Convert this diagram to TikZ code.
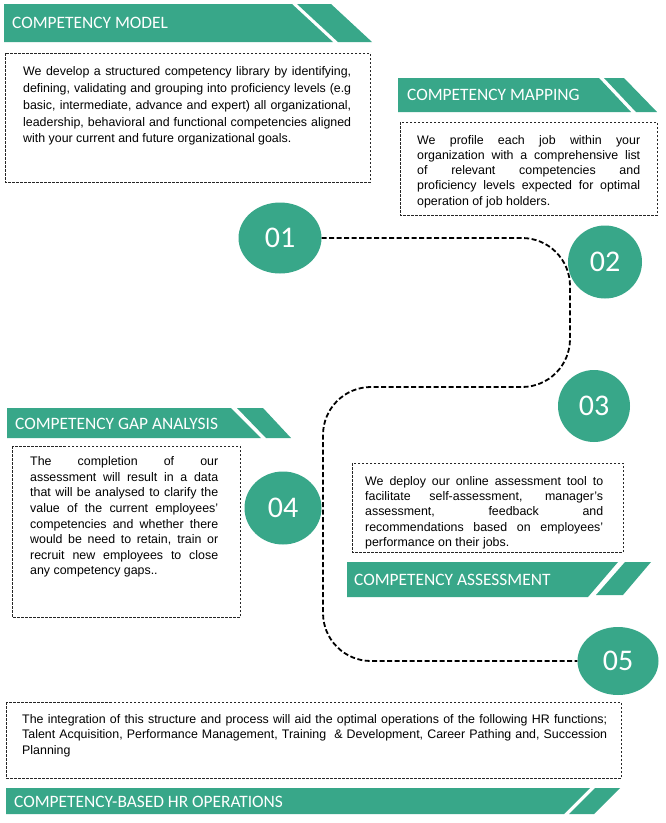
\documentclass[tikz,border=0pt]{standalone}
\usepackage{fontspec}
\setmainfont{Liberation Sans}
\newfontfamily\headfont{Carlito}
\usetikzlibrary{shapes.geometric}
\definecolor{stepteal}{RGB}{56,167,137}
\tolerance=10000
\hbadness=10000
\hyphenpenalty=10000

\begin{document}
\begin{tikzpicture}[x=1pt,y=-1pt,
    banner/.style={fill=stepteal},
    title node/.style={anchor=base west,inner sep=0pt,text=white,font=\headfont\fontsize{17.4}{20}\selectfont},
    card/.style={draw=black!85,line width=0.8pt,dash pattern=on 2.5pt off 1.5pt},
    text node/.style={anchor=base west,inner sep=0pt,align=justify,font=\fontsize{12.4}{15.5}\selectfont},
    num node/.style={ellipse,fill=stepteal,text=white,inner sep=0pt,minimum width=78pt,minimum height=72pt,font=\headfont\fontsize{30}{30}\selectfont},
    link/.style={draw=black,line width=1.8pt,dash pattern=on 5pt off 2.5pt,rounded corners=48pt}]

    \path[fill=white,use as bounding box] (0,0) rectangle (666,823);

    % competency model
    \fill[banner] (4,4) -- (292,4) -- (333,42) -- (4,42) -- cycle;
    \fill[banner] (297,4) -- (331,4) -- (372,42) -- (338,42) -- cycle;
    \node[title node] (h1) at (12,28) {COMPETENCY MODEL};
    \draw[card] (5,53) rectangle (370,182);
    \node[text node,text width=328pt,font=\fontsize{12.4}{16.9}\selectfont] (t1) at (23,75.3)
        {We develop a structured competency library by identifying,\linebreak
         defining, validating and grouping into proficiency levels (e.g\linebreak
         basic, intermediate, advance and expert) all organizational,\linebreak
         leadership, behavioral and functional competencies aligned\linebreak
         with your current and future organizational goals.};

    % competency mapping
    \fill[banner] (398,78) -- (599,78) -- (631,112) -- (398,112) -- cycle;
    \fill[banner] (604,78) -- (624,78) -- (657,112) -- (636,112) -- cycle;
    \node[title node] (h2) at (407,100) {COMPETENCY MAPPING};
    \draw[card] (400,122) rectangle (657,215);
    \node[text node,text width=223pt,font=\fontsize{12.4}{15.25}\selectfont] (t2) at (417,144)
        {We profile each job within your\linebreak
         organization with a comprehensive list\linebreak
         of relevant competencies and\linebreak
         proficiency levels expected for optimal\linebreak
         operation of job holders.};

    % competency gap analysis
    \fill[banner] (7,408) -- (231,408) -- (261,438) -- (7,438) -- cycle;
    \fill[banner] (237,408) -- (263,408) -- (291,438) -- (266,438) -- cycle;
    \node[title node] (h4) at (15,429) {COMPETENCY GAP ANALYSIS};
    \draw[card] (12,446) rectangle (240,617);
    \node[text node,text width=188pt,font=\fontsize{12.4}{15.6}\selectfont] (t4) at (30,465.7)
        {The completion of our\linebreak
         assessment will result in a data\linebreak
         that will be analysed to clarify the\linebreak
         value of the current employees'\linebreak
         competencies and whether there\linebreak
         would be need to retain, train or\linebreak
         recruit new employees to close\linebreak
         any competency gaps..};

    % competency assessment
    \draw[card] (352,463) rectangle (623,552);
    \node[text node,text width=238pt,font=\fontsize{12.4}{15.4}\selectfont] (t3) at (365,485)
        {We deploy our online assessment tool to\linebreak
         facilitate self-assessment, manager's\linebreak
         assessment, feedback and\linebreak
         recommendations based on employees'\linebreak
         performance on their jobs.};
    \fill[banner] (347,562) -- (618,562) -- (588,597) -- (347,597) -- cycle;
    \fill[banner] (625,562) -- (651,562) -- (623,595) -- (596,595) -- cycle;
    \node[title node] (h3) at (354,585) {COMPETENCY ASSESSMENT};

    % hr operations
    \draw[card] (6,702) rectangle (621,778);
    \node[text node,text width=585pt,font=\fontsize{12.4}{15.4}\selectfont] (t5) at (22,723.3)
        {The integration of this structure and process will aid the optimal operations of the following HR functions;\linebreak
         Talent Acquisition, Performance Management, Training \ \& Development, Career Pathing and, Succession\linebreak
         Planning};
    \fill[banner] (6,788) -- (590,788) -- (564,814) -- (6,814) -- cycle;
    \fill[banner] (595,788) -- (620,788) -- (594,814) -- (569,814) -- cycle;
    \node[title node] (h5) at (14,807) {COMPETENCY-BASED HR OPERATIONS};

    % steps
    \node[num node,minimum width=83pt,minimum height=71pt] (1) at (280,238) {01};
    \node[num node,minimum width=74pt,minimum height=73pt] (2) at (605,262) {02};
    \node[num node,minimum width=72pt,minimum height=72pt] (3) at (594,406) {03};
    \node[num node,minimum width=77pt,minimum height=73pt] (4) at (283,508) {04};
    \node[num node,minimum width=81pt,minimum height=68pt] (5) at (618,661) {05};

    \path[link] (1.east) -- (570,238) -- (570,387) -- (323,387) -- (323,661) -- (5.west);
\end{tikzpicture}
\end{document}
